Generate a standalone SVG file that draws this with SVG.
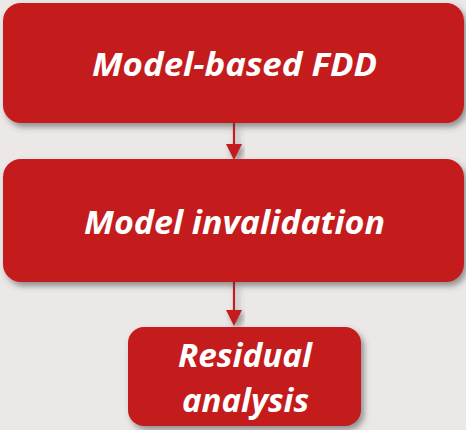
<svg xmlns="http://www.w3.org/2000/svg" width="466" height="430" viewBox="0 0 466 430">
  <defs>
    <filter id="shadow" x="-10%" y="-20%" width="125%" height="150%">
      <feDropShadow dx="3" dy="4" stdDeviation="3" flood-color="#444" flood-opacity="0.55"/>
    </filter>
    <style>
      .box { fill: #c41a1b; filter: url(#shadow); }
      .label { fill: #ffffff; font-family: "Open Sans", "Liberation Sans", sans-serif; font-weight: bold; font-style: italic; font-size: 32px; text-anchor: middle; }
      .link { stroke: #c41a1b; stroke-width: 2.2; fill: none; }
      .head { fill: #c41a1b; }
    </style>
  </defs>

  <rect width="466" height="430" fill="#ece8e8"/>

  <!-- connectors -->
  <g id="connectors" filter="url(#shadow)">
    <line class="link" x1="234" y1="123" x2="234" y2="145"/>
    <path class="head" d="M226,144 L242,144 L234,160 Z"/>
    <line class="link" x1="234" y1="282" x2="234" y2="311"/>
    <path class="head" d="M226,310 L242,310 L234,326 Z"/>
  </g>

  <g id="model-based-fdd">
    <rect class="box" x="3" y="3" width="461" height="120" rx="18"/>
    <text class="label" x="234.5" y="76" textLength="285" lengthAdjust="spacingAndGlyphs">Model-based FDD</text>
  </g>

  <g id="model-invalidation">
    <rect class="box" x="3" y="159" width="461" height="123" rx="18"/>
    <text class="label" x="234.5" y="234" textLength="301" lengthAdjust="spacingAndGlyphs">Model invalidation</text>
  </g>

  <g id="residual-analysis">
    <rect class="box" x="128" y="327" width="233" height="99" rx="16"/>
    <text class="label" x="245" y="367" textLength="134" lengthAdjust="spacingAndGlyphs">Residual</text>
    <text class="label" x="245.5" y="412" textLength="127" lengthAdjust="spacingAndGlyphs">analysis</text>
  </g>
</svg>
